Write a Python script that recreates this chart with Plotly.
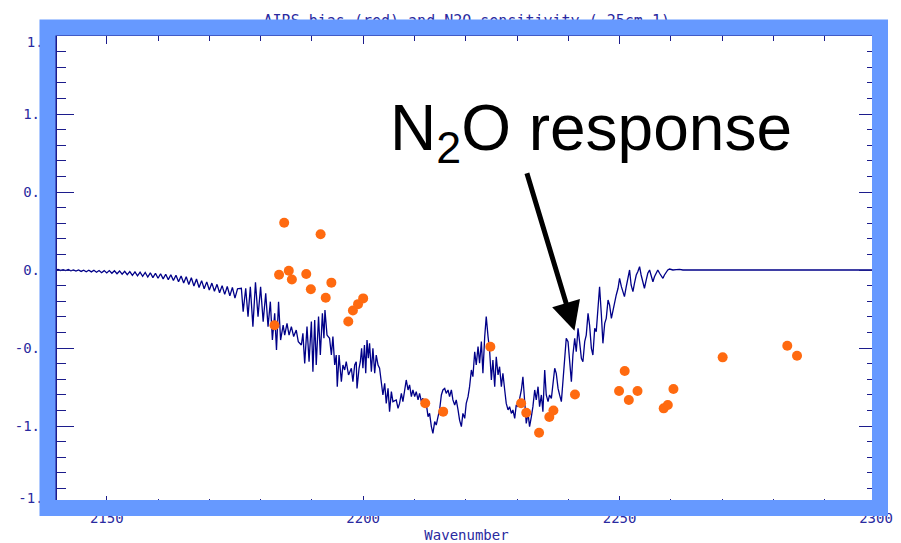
import plotly.graph_objects as go

# ---------------- data ----------------
title_text = "AIRS bias (red) and N2O sensitivity ( 25cm-1)"
x_label = "Wavenumber"
xtick_vals = [2150, 2200, 2250, 2300]
ytick_vals = [-1.0, -0.5, 0.0, 0.5, 1.0]
ytick_text = ["-1.0", "-0.5", "0.0", "0.5", "1.0"]
yend_vals = [-1.5, 1.5]
yend_text = ["-1.5", "1.5"]

# N2O sensitivity spectrum (wavenumber, value)
wn = [2140.0, 2140.5, 2141.0, 2141.5, 2142.0, 2142.5, 2143.0, 2143.5, 2144.0, 2144.5,
      2145.0, 2145.5, 2146.0, 2146.5, 2147.0, 2147.5, 2148.0, 2148.5, 2149.0, 2149.5,
      2150.0, 2150.5, 2151.0, 2151.5, 2152.0, 2152.5, 2153.0, 2153.5, 2154.0, 2154.5,
      2155.0, 2155.5, 2156.0, 2156.5, 2157.0, 2157.5, 2158.0, 2158.5, 2159.0, 2159.5,
      2160.0, 2160.5, 2161.0, 2161.5, 2162.0, 2162.5, 2163.0, 2163.5, 2164.0, 2164.5,
      2165.0, 2165.5, 2166.0, 2166.5, 2167.0, 2167.5, 2168.0, 2168.5, 2169.0, 2169.5,
      2170.0, 2170.5, 2171.0, 2171.5, 2172.0, 2172.5, 2173.0, 2173.5, 2174.0, 2174.5,
      2175.0, 2175.5,
      2176.25, 2176.6, 2177.1, 2177.55, 2178.0, 2178.5, 2179.0, 2179.5, 2180.0, 2180.5,
      2181.0, 2181.45, 2181.9, 2182.3, 2182.75, 2183.1, 2183.5, 2183.9,
      2184.4, 2184.7, 2185.15, 2185.55, 2186.0, 2186.45, 2186.95, 2187.35,
      2187.95, 2188.25, 2188.6, 2189.05, 2189.45, 2189.9, 2190.2, 2190.55, 2190.85, 2191.3,
      2191.65, 2192.05, 2192.35, 2192.55, 2192.95,
      2193.45, 2193.8, 2194.1, 2194.45, 2194.75, 2194.95, 2195.3, 2195.75, 2196.05, 2196.4,
      2196.7, 2197.15, 2197.7, 2198.0, 2198.35, 2198.65, 2198.8,
      2199.2, 2199.45, 2199.7, 2199.95, 2200.25, 2200.5, 2200.75, 2201.0, 2201.25, 2201.6,
      2201.9, 2202.25, 2202.55, 2202.9, 2203.2, 2203.55, 2203.85, 2204.2, 2204.5, 2204.85,
      2205.15, 2205.5, 2205.8, 2206.45, 2206.8,
      2207.1, 2207.45, 2207.75, 2208.1, 2208.4, 2208.75, 2209.05, 2209.4, 2209.7, 2210.05,
      2210.35, 2210.7, 2211.0, 2211.35, 2211.65, 2212.0, 2212.3, 2212.65, 2212.95, 2213.3,
      2213.6, 2213.95, 2214.25, 2214.6, 2214.9, 2215.25, 2215.55, 2215.9, 2216.2, 2216.55,
      2216.85, 2217.2, 2217.5, 2217.85, 2218.15, 2218.5, 2218.8, 2219.15, 2219.45, 2219.8,
      2220.1, 2220.45, 2220.75, 2221.1, 2221.4, 2221.75, 2222.05, 2222.4, 2222.7, 2223.05,
      2223.35, 2223.7, 2224.0, 2224.35, 2224.65, 2225.0, 2225.3, 2225.65, 2225.95, 2226.3,
      2226.6, 2226.95, 2227.25, 2227.6, 2227.9, 2228.25, 2228.55, 2228.9, 2229.2, 2229.55,
      2229.85, 2230.2, 2230.5, 2230.85, 2231.15, 2231.5, 2231.8, 2232.15, 2232.45, 2232.8,
      2233.1, 2233.45, 2233.75, 2234.1, 2234.4,
      2234.75, 2235.05, 2235.4, 2235.7, 2236.05, 2236.35, 2236.7, 2237.0, 2237.35, 2237.65,
      2238.0, 2238.3, 2238.65, 2238.95, 2239.3, 2239.6, 2239.95, 2240.25, 2240.6, 2240.9,
      2241.25, 2241.55, 2241.9, 2242.2, 2242.55, 2242.85, 2243.2, 2243.5, 2243.85, 2244.15,
      2244.5, 2244.8, 2245.15, 2245.45, 2245.8, 2246.1, 2246.45, 2246.75, 2247.1, 2247.4,
      2247.75, 2248.05, 2248.4, 2248.7, 2249.05, 2249.35, 2249.7, 2250.0, 2250.35, 2250.65,
      2250.95, 2251.3, 2251.6, 2251.95, 2252.25, 2252.6, 2252.9, 2253.25, 2253.55, 2253.9,
      2254.2, 2254.55, 2254.85, 2255.2, 2255.5, 2255.85, 2256.15, 2256.5, 2256.8, 2257.15,
      2257.45, 2257.8, 2258.1, 2258.45, 2258.75, 2259.1, 2259.4, 2259.75, 2260.4, 2261.05,
      2261.7, 2262.35, 2270.0, 2280.0, 2290.0, 2300.0]

sens = [0.000, 0.003, -0.003, 0.002, -0.004, 0.003, -0.005, 0.001, -0.007, 0.000,
        -0.009, -0.001, -0.011, -0.001, -0.012, -0.002, -0.014, -0.003, -0.017, -0.004,
        -0.019, -0.004, -0.021, -0.005, -0.024, -0.006, -0.027, -0.008, -0.030, -0.010,
        -0.034, -0.012, -0.038, -0.014, -0.041, -0.016, -0.045, -0.018, -0.049, -0.021,
        -0.053, -0.024, -0.057, -0.027, -0.062, -0.030, -0.067, -0.034, -0.075, -0.038,
        -0.083, -0.043, -0.093, -0.050, -0.103, -0.058, -0.112, -0.068, -0.120, -0.076,
        -0.128, -0.084, -0.136, -0.092, -0.146, -0.100, -0.156, -0.106, -0.166, -0.112,
        -0.180, -0.120,
        -0.117, -0.267, -0.117, -0.299, -0.107, -0.363, -0.079, -0.299, -0.107, -0.331,
        -0.149, -0.363, -0.203, -0.449, -0.278, -0.513, -0.203, -0.449,
        -0.353, -0.417, -0.342, -0.417, -0.363, -0.427, -0.385, -0.459,
        -0.481, -0.406, -0.599, -0.363, -0.588, -0.331, -0.652, -0.320, -0.609, -0.299,
        -0.545, -0.278, -0.438, -0.256, -0.417,
        -0.438, -0.545, -0.427, -0.609, -0.545, -0.748, -0.545, -0.716, -0.609, -0.641,
        -0.588, -0.673, -0.630, -0.716, -0.609, -0.588, -0.759,
        -0.630, -0.588, -0.502, -0.630, -0.481, -0.662, -0.449, -0.566, -0.470, -0.652,
        -0.502, -0.662, -0.545, -0.609, -0.630, -0.716, -0.801, -0.727, -0.855, -0.759,
        -0.908, -0.780, -0.844, -0.833, -0.887,
        -0.855, -0.791, -0.844, -0.769, -0.705, -0.769, -0.737, -0.812, -0.769, -0.812,
        -0.780, -0.833, -0.791, -0.844, -0.823, -0.865, -0.855, -0.940, -0.919, -1.004,
        -1.047, -0.972, -0.994, -0.940, -0.897, -0.801, -0.769, -0.759, -0.791, -0.769,
        -0.812, -0.769, -0.833, -0.865, -0.833, -0.897, -0.962, -1.004, -0.919, -0.951,
        -0.855, -0.812, -0.748, -0.641, -0.684, -0.524, -0.609, -0.491, -0.598, -0.459,
        -0.662, -0.427, -0.299, -0.427, -0.513, -0.705, -0.577, -0.748, -0.556, -0.673,
        -0.620, -0.748, -0.662, -0.769, -0.855, -0.897, -0.876, -0.919, -0.897, -0.951,
        -0.865, -0.876, -0.833, -0.769, -0.684, -0.855, -0.983, -0.919, -1.004, -0.940,
        -0.876, -0.769, -0.833, -0.748, -0.876,
        -0.801, -0.908, -0.641, -0.801, -0.844, -0.801, -0.823, -0.716, -0.630, -0.662,
        -0.759, -0.801, -0.844, -0.716, -0.545, -0.438, -0.459, -0.609, -0.716, -0.545,
        -0.438, -0.524, -0.374, -0.459, -0.566, -0.588, -0.459, -0.417, -0.278, -0.353,
        -0.502, -0.545, -0.374, -0.395, -0.224, -0.107, -0.288, -0.470, -0.342, -0.310,
        -0.192, -0.224, -0.310, -0.256, -0.203, -0.160, -0.117, -0.053, -0.107, -0.139,
        -0.171, -0.107, -0.053, 0.000, -0.096, -0.139, -0.085, -0.032, -0.011, 0.021,
        -0.032, -0.075, -0.117, -0.064, -0.021, 0.000, -0.032, -0.075, -0.043, -0.021,
        0.000, -0.021, -0.036, -0.053, -0.032, -0.011, 0.000, 0.006, 0.000, 0.002,
        0.004, 0.000, 0.000, 0.000, 0.000, 0.000]

# AIRS bias (red/orange dots)
bias_wn = [2182.7, 2183.6, 2184.6, 2185.5, 2186.1, 2188.9, 2189.8, 2191.7, 2192.7, 2193.8,
           2197.1, 2198.0, 2199.0, 2200.0, 2212.1, 2215.6, 2224.8, 2230.8, 2231.8, 2234.3,
           2236.3, 2237.1, 2241.3, 2249.9, 2251.0, 2251.8, 2253.5, 2258.6, 2259.4, 2260.5,
           2270.1, 2282.7, 2284.6]
bias_val = [-0.354, -0.030, 0.303, -0.005, -0.061, -0.026, -0.123, 0.229, -0.178, -0.081,
            -0.330, -0.260, -0.219, -0.182, -0.854, -0.908, -0.492, -0.854, -0.915, -1.043,
            -0.942, -0.901, -0.798, -0.776, -0.647, -0.833, -0.776, -0.887, -0.865, -0.763,
            -0.560, -0.486, -0.550]

# ---------------- styling ----------------
NAVY = "#1c1c8c"
TXT = "#2a2aa0"
MONO = "DejaVu Sans Mono"
FRAME = "#6699ff"
XR = [2140.3, 2300]
YR = [-1.5, 1.5]

fig = go.Figure()
fig.add_trace(go.Scatter(x=wn, y=sens, mode="lines",
                         line=dict(color="#000088", width=1.3),
                         showlegend=False, hoverinfo="skip"))
fig.add_trace(go.Scatter(x=bias_wn, y=bias_val, mode="markers",
                         marker=dict(color="#ff6a10", size=10, line=dict(width=0)),
                         showlegend=False, hoverinfo="skip"))
# helper invisible traces so the overlay axes (title / end labels) exist
fig.add_trace(go.Scatter(x=[None], y=[None], xaxis="x2", yaxis="y",
                         showlegend=False, hoverinfo="skip"))
fig.add_trace(go.Scatter(x=[None], y=[None], xaxis="x", yaxis="y3",
                         showlegend=False, hoverinfo="skip"))

fig.update_layout(
    width=901, height=543,
    margin=dict(l=57, r=25, t=36, b=39, pad=0),
    paper_bgcolor="white", plot_bgcolor="white",
    xaxis=dict(range=XR, tickvals=xtick_vals, ticks="inside", ticklen=8, tickwidth=1.3,
               tickcolor=NAVY, showline=True, linecolor=NAVY, linewidth=1.5,
               mirror="ticks", showgrid=False, zeroline=False, automargin=False,
               minor=dict(dtick=10, ticks="inside", ticklen=5, tickcolor=NAVY, tickwidth=1.2),
               tickfont=dict(family=MONO, size=14, color=TXT), ticklabelstandoff=0,
               title=dict(text=x_label, font=dict(family=MONO, size=14, color=TXT), standoff=10)),
    yaxis=dict(range=YR, tickvals=ytick_vals, ticktext=ytick_text, ticks="inside",
               ticklen=17, tickwidth=1.3, tickcolor=NAVY, showline=True, linecolor=NAVY,
               linewidth=1.5, mirror="ticks", showgrid=False, zeroline=False, automargin=False,
               minor=dict(dtick=0.1, ticks="inside", ticklen=9, tickcolor=NAVY, tickwidth=1.2),
               tickfont=dict(family=MONO, size=14, color=TXT), ticklabelstandoff=4),
    xaxis2=dict(overlaying="x", side="top", anchor="y", range=XR, automargin=False,
                tickvals=[2220.2], ticktext=[title_text], ticks="", showline=False,
                showgrid=False, zeroline=False,
                tickfont=dict(family=MONO, size=15, color=TXT), ticklabelstandoff=6),
    yaxis3=dict(overlaying="y", side="left", anchor="x", range=[-1.5395, 1.5395],
                tickvals=yend_vals, ticktext=yend_text, ticks="", showline=False,
                showgrid=False, zeroline=False, automargin=False,
                tickfont=dict(family=MONO, size=14, color=TXT), ticklabelstandoff=4),
    shapes=[dict(type="rect", xref="paper", yref="paper", layer="above",
                 x0=-0.0116, x1=1.00488, y0=-0.00855, y1=1.0182,
                 line=dict(color=FRAME, width=16), fillcolor="rgba(0,0,0,0)")],
    annotations=[
        dict(x=2244.5, y=0.885, xref="x", yref="y", text="N<sub>2</sub>O response",
             showarrow=False, font=dict(family="Liberation Sans", size=64, color="black"),
             xanchor="center", yanchor="middle"),
        dict(x=2241.2, y=-0.39, xref="x", yref="y", text="", showarrow=True,
             ax=-48, ay=-159, arrowhead=2, arrowwidth=5, arrowsize=1.16,
             arrowcolor="black", standoff=0),
    ],
)

fig.write_html("out.html")
